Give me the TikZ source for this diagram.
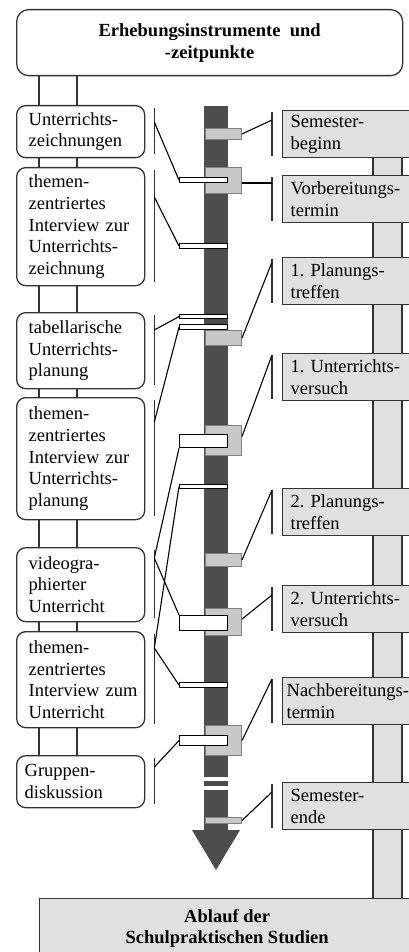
\documentclass[tikz,border=0pt]{standalone}
\usepackage{fontspec}
\setmainfont{Liberation Serif}
\usetikzlibrary{calc}

\definecolor{linegray}{HTML}{333333}
\definecolor{axisgray}{HTML}{4D4D4D}
\definecolor{markgray}{HTML}{C8C8C8}
\definecolor{markline}{HTML}{808080}
\definecolor{panelgray}{HTML}{E0E0E0}

\begin{document}
\begin{tikzpicture}[x=1pt,y=-1pt,
	every node/.style={font=\fontsize{18.5}{21.8}\selectfont},
	lbox/.style={draw=linegray,line width=1.3pt,rounded corners=9pt,fill=white,anchor=north west,
		minimum width=128pt,text width=104pt,inner xsep=12pt,inner ysep=0pt,align=left},
	rbox/.style={draw=linegray,line width=1.3pt,fill=panelgray,anchor=north west,
		minimum width=128pt,minimum height=47pt,text width=112pt,inner xsep=8pt,inner ysep=0pt,align=left},
	evt/.style={draw=markline,line width=1pt,fill=markgray,anchor=north west,minimum width=36pt,inner sep=0pt},
	wbar/.style={draw=black,line width=1.2pt,fill=white,anchor=north west,minimum width=48pt,inner sep=0pt},
	tick/.style={draw=linegray,line width=1.3pt},
	link/.style={draw=black,line width=1.1pt}]

\useasboundingbox (0,0) rectangle (408,952);

% Kopf und Fuss
\node[draw=linegray,line width=1.3pt,rounded corners=12pt,anchor=north west,minimum width=386pt,
	minimum height=66pt,inner sep=0pt,align=center,font=\fontsize{18.5}{22}\selectfont\bfseries]
	(top) at (16,9) {Erhebungsinstrumente\ \ und\\-zeitpunkte};
\node[draw=linegray,line width=1.3pt,fill=panelgray,anchor=north west,minimum width=375pt,
	minimum height=60pt,inner sep=0pt,align=center,font=\fontsize{18.5}{21.5}\selectfont\bfseries]
	(ablauf) at (39,898) {Ablauf der\\Schulpraktischen Studien};

% Erhebungsinstrumente
\node[lbox,minimum height=52pt] (zeich) at (16,105) {Unterrichts-\\zeichnungen};
\node[lbox,minimum height=118pt] (izz) at (16,167) {themen-\\zentriertes\\Interview~zur\\Unterrichts-\\zeichnung};
\node[lbox,minimum height=76pt] (tab) at (16,312) {tabellarische\\Unterrichts-\\planung};
\node[lbox,minimum height=122pt] (izp) at (16,397) {themen-\\zentriertes\\Interview~zur\\Unterrichts-\\planung};
\node[lbox,minimum height=74pt] (video) at (16,547) {videogra-\\phierter\\Unterricht};
\node[lbox,minimum height=96pt] (izu) at (16,631) {themen-\\zentriertes\\Interview~zum\\Unterricht};
\node[lbox,minimum height=52pt,inner xsep=8pt,text width=112pt] (grp) at (16,755) {Gruppen-\\diskussion};

\foreach \a/\b in {top/zeich,zeich/izz,izz/tab,tab/izp,izp/video,video/izu,izu/grp} {
	\foreach \x in {23,61}
		\draw[tick] ($(\a.south west)+(\x,0)$) -- ($(\b.north west)+(\x,0)$);
}

% Ablauf
\node[rbox] (sb) at (282,110) {Semester-\\beginn};
\node[rbox] (vb) at (282,175) {Vorbereitungs-\\termin};
\node[rbox] (p1) at (282,257) {1.~Planungs-\\treffen};
\node[rbox] (u1) at (282,353) {1.~Unterrichts-\\versuch};
\node[rbox] (p2) at (282,488) {2.~Planungs-\\treffen};
\node[rbox] (u2) at (282,585) {2.~Unterrichts-\\versuch};
\node[rbox,inner xsep=4pt,text width=120pt] (nb) at (282,677) {\mbox{Nachbereitungs-}\\termin};
\node[rbox] (se) at (282,782) {Semester-\\ende};

\foreach \a/\b in {sb/vb,vb/p1,p1/u1,u1/p2,p2/u2,u2/nb,nb/se,se/ablauf} {
	\fill[panelgray] (373,0 |- \a.south) rectangle (402,0 |- \b.north);
	\foreach \x in {373,402}
		\draw[tick] (\x,0 |- \a.south) -- (\x,0 |- \b.north);
}

% Zeitachse
\fill[axisgray] (204,106) rectangle (228,830);
\fill[axisgray] (192,830) -- (240,830) -- (216,870) -- cycle;
\foreach \y in {777,786}
	\fill[white] (204,\y) rectangle (228,\y+4);

\node[evt,minimum height=11pt] (msb) at (205,128) {};
\node[evt,minimum height=26pt] (mvb) at (205,167) {};
\node[evt,minimum height=15pt] (mp1) at (205,330) {};
\node[evt,minimum height=30pt] (mu1) at (205,425) {};
\node[evt,minimum height=13pt] (mp2) at (205,553) {};
\node[evt,minimum height=27pt] (mu2) at (205,608) {};
\node[evt,minimum height=30pt] (mnb) at (205,725) {};
\node[evt,minimum height=6pt] (mse) at (205,817) {};

\foreach \n/\y/\h in {bz1/177/5,bz2/243/5,bta/314/4,bti/324/5,bv1/434/13,biu1/484/4,bv2/615/15,biu2/682/5,bgd/735/10}
	\node[wbar,minimum height=\h pt] (\n) at (179,\y) {};

% Klammern
\foreach \b in {zeich,izz,tab,izp,video,izu,grp}
	\draw[tick] ($(\b.north east)+(9,3)$) -- ($(\b.south east)+(9,-4)$);
\foreach \b in {sb,vb,p1,u1,p2,u2,nb,se}
	\draw[tick] ($(\b.north west)+(-10,2)$) -- ($(\b.south west)+(-10,-2)$);

\coordinate (k1) at ($(zeich.north east)+(9,17)$);
\coordinate (k2) at ($(izz.north east)+(9,30)$);
\coordinate (k3) at ($(tab.north east)+(9,18)$);
\coordinate (k4) at ($(izp.north east)+(9,25)$);
\coordinate (k5) at ($(video.north east)+(9,11)$);
\coordinate (k6) at ($(izu.north east)+(9,17)$);
\coordinate (k7) at ($(grp.north east)+(9,12)$);

\coordinate (r1) at ($(sb.north west)+(-10,10)$);
\coordinate (r2) at ($(vb.north west)+(-10,8)$);
\coordinate (r3) at ($(p1.north west)+(-10,5)$);
\coordinate (r4) at ($(u1.north west)+(-10,2)$);
\coordinate (r5) at ($(p2.north west)+(-10,2)$);
\coordinate (r6) at ($(u2.north west)+(-10,10)$);
\coordinate (r7) at ($(nb.north west)+(-10,2)$);
\coordinate (r8) at ($(se.north west)+(-10,10)$);

% Zuordnungen
\draw[link] (k1) -- (bz1.west);
\draw[link] (k2) -- (bz2.west);
\draw[link] (k3) -- (bta.west);
\draw[link] (k4) -- (bti.west);
\draw[link] (k5) -- (bv1.south west);
\draw[link] (k5) -- (bv2.north west);
\draw[link] (k6) -- (biu1.west);
\draw[link] (k6) -- (biu2.west);
\draw[link] (k7) -- (bgd.west);

\draw[link] (msb.east) -- (r1);
\draw[link] (mvb.east |- r2) -- (r2);
\draw[link] (mp1.east) -- (r3);
\draw[link] ($(mu1.east)+(0,-4)$) -- (r4);
\draw[link] (mp2.east) -- (r5);
\draw[link] ($(mu2.east)+(0,-3)$) -- (r6);
\draw[link] (mnb.east) -- (r7);
\draw[link] (mse.east) -- (r8);

\end{tikzpicture}
\end{document}
